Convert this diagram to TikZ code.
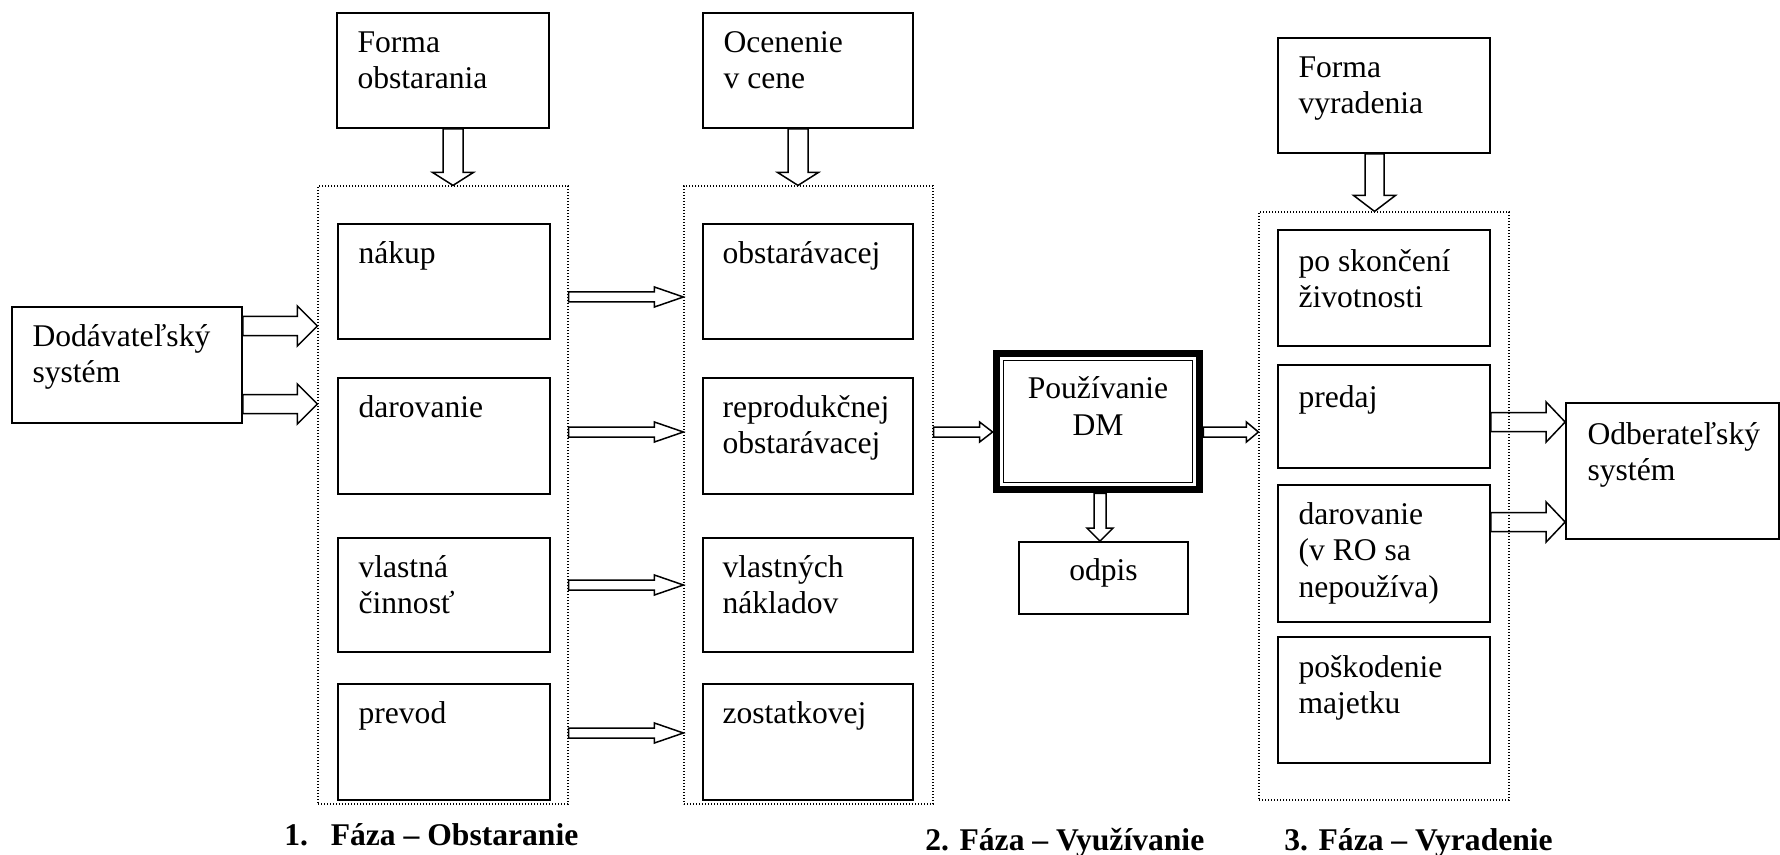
\documentclass[tikz,border=0pt]{standalone}
\usepackage{fontspec}
\setmainfont{Liberation Serif}
\usetikzlibrary{calc,fit}
\tikzset{
  boxsty/.style={draw, line width=0.85pt, inner sep=0pt, rectangle},
  dotbox/.style={draw, line width=0.6pt, dash pattern=on 0.6pt off 0.9pt, inner sep=0pt, rectangle},
  harr/.style={draw, line width=0.75pt, line join=miter},
  txt/.style={inner sep=0pt, font=\fontsize{15.8pt}{18.3pt}\selectfont},
  phase/.style={inner sep=0pt, font=\fontsize{15.8pt}{18pt}\selectfont\bfseries, anchor=base west},
}
% box from two corners (px)
\newcommand\mkbox[3]{\node[boxsty, fit={(#2) (#3)}] (#1) {};}
\newcommand\mkdots[3]{\node[dotbox, fit={(#2) (#3)}] (#1) {};}
% text at top-left of a box: name, box, offset, text
\newcommand\boxtext[4]{\node[txt, anchor=base west] (#1) at ($(#2.north west)+(#3)$) {\parbox[t]{250pt}{#4}};}
% hollow arrow to the right: start, end, shaft half, head half, head length
\newcommand\rarr[5]{\draw[harr] let \p1=(#1), \p2=(#2) in
  (\x1,\y1+#3) -- (\x2-#5,\y1+#3) -- (\x2-#5,\y1+#4) -- (\x2,\y1) --
  (\x2-#5,\y1-#4) -- (\x2-#5,\y1-#3) -- (\x1,\y1-#3) -- cycle;}
% hollow arrow downwards
\newcommand\darr[5]{\draw[harr] let \p1=(#1), \p2=(#2) in
  (\x1+#3,\y1) -- (\x1+#3,\y2+#5) -- (\x1+#4,\y2+#5) -- (\x1,\y2) --
  (\x1-#4,\y2+#5) -- (\x1-#3,\y2+#5) -- (\x1-#3,\y1) -- cycle;}
\begin{document}
\begin{tikzpicture}[x=0.5pt,y=-0.5pt]
\useasboundingbox (0,0) rectangle (1780,855);

% containers
\mkdots{c1}{318,186}{568,804}
\mkdots{c2}{684,186}{933,804}
\mkdots{c3}{1259,212}{1509,800}

% top boxes
\mkbox{fo}{337,13}{549,128}
\mkbox{oc}{703,13}{913,128}
\mkbox{fv}{1278,38}{1490,153}
\boxtext{tfo}{fo}{21,40}{Forma\\obstarania}
\boxtext{toc}{oc}{21,40}{Ocenenie\\v cene}
\boxtext{tfv}{fv}{21,40}{Forma\\vyradenia}

% column 1
\mkbox{b11}{338,224}{550,339}
\mkbox{b12}{338,378}{550,494}
\mkbox{b13}{338,538}{550,652}
\mkbox{b14}{338,684}{550,800}
\boxtext{t11}{b11}{21,40}{nákup}
\boxtext{t12}{b12}{21,40}{darovanie}
\boxtext{t13}{b13}{21,40}{vlastná\\činnosť}
\boxtext{t14}{b14}{21,40}{prevod}

% column 2
\mkbox{b21}{703,224}{913,339}
\mkbox{b22}{703,378}{913,494}
\mkbox{b23}{703,538}{913,652}
\mkbox{b24}{703,684}{913,800}
\boxtext{t21}{b21}{20,40}{obstarávacej}
\boxtext{t22}{b22}{20,40}{reprodukčnej\\obstarávacej}
\boxtext{t23}{b23}{20,40}{vlastných\\nákladov}
\boxtext{t24}{b24}{20,40}{zostatkovej}

% column 3
\mkbox{b31}{1278,230}{1490,346}
\mkbox{b32}{1278,365}{1490,468}
\mkbox{b33}{1278,485}{1490,622}
\mkbox{b34}{1278,637}{1490,763}
\boxtext{t31}{b31}{21,42}{po skončení\\životnosti}
\boxtext{t32}{b32}{21,43}{predaj}
\boxtext{t33}{b33}{21,40}{darovanie\\(v RO sa\\nepoužíva)}
\boxtext{t34}{b34}{21,41}{poškodenie\\majetku}

% side systems
\mkbox{dod}{12,307}{242,423}
\mkbox{odb}{1566,403}{1779,539}
\boxtext{tdod}{dod}{21,40}{Dodávateľský\\systém}
\boxtext{todb}{odb}{22,42}{Odberateľský\\systém}

% Pouzivanie DM
\node[inner sep=0pt, fit={(993,350) (1203,493)}] (pouz) {};
\draw[line width=3.5pt, line join=miter] ($(pouz.south west)+(3.5,-3.5)$) rectangle ($(pouz.north east)+(-3.5,3.5)$);
\draw[line width=0.8pt] ($(pouz.south west)+(11,-11)$) rectangle ($(pouz.north east)+(-11,11)$);
\node[txt, anchor=base] (tpouz) at ($(pouz.north)+(0,49)$) {\parbox[t]{200pt}{\centering Používanie\\DM}};
\mkbox{odpis}{1019,542}{1188,614}
\node[txt, anchor=base] (todpis) at ($(odpis.center)+(0,2)$) {odpis};

% helper rows
\coordinate (d1) at (0,326);
\coordinate (d2) at (0,404);
\coordinate (r1) at (0,297);
\coordinate (r2) at (0,432);
\coordinate (r3) at (0,585);
\coordinate (r4) at (0,733);
\coordinate (o1) at (0,422);
\coordinate (o2) at (0,522);

% arrows down
\darr{$(fo.south)+(10,0)$}{c1.north}{5pt}{10.25pt}{6.5pt}
\darr{$(oc.south)+(-10,0)$}{c2.north}{5pt}{10.25pt}{6.5pt}
\darr{$(fv.south)+(-9.5,0)$}{c3.north}{4.75pt}{10.5pt}{8pt}
\darr{$(pouz.south)+(2,0)$}{odpis.north}{3pt}{6.5pt}{6.5pt}

% arrows right
\rarr{dod.east |- d1}{c1.west}{4.75pt}{10pt}{10pt}
\rarr{dod.east |- d2}{c1.west}{4.75pt}{10pt}{10pt}
\rarr{c1.east |- r1}{c2.west}{2.5pt}{5pt}{14.5pt}
\rarr{c1.east |- r2}{c2.west}{2.5pt}{5pt}{14.5pt}
\rarr{c1.east |- r3}{c2.west}{2.5pt}{5pt}{14.5pt}
\rarr{c1.east |- r4}{c2.west}{2.5pt}{5pt}{14.5pt}
\rarr{c2.east |- r2}{pouz.west}{2.5pt}{5pt}{6.5pt}
\rarr{pouz.east |- r2}{c3.west}{2.5pt}{5pt}{6pt}
\rarr{b32.east |- o1}{odb.west}{4.75pt}{10pt}{9.5pt}
\rarr{b33.east |- o2}{odb.west}{4.75pt}{10pt}{9.5pt}

% phase labels
\node[phase] (ph1) at (284,845) {1.\hspace{0.72em}Fáza – Obstaranie};
\node[phase] (ph2) at (925,850) {2. Fáza – Využívanie};
\node[phase] (ph3) at (1284,850) {3. Fáza – Vyradenie};
\end{tikzpicture}
\end{document}
